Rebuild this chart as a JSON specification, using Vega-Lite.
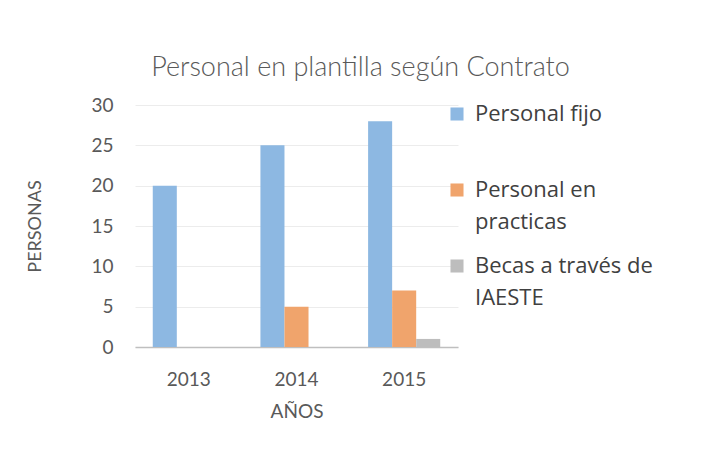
{
  "$schema": "https://vega.github.io/schema/vega-lite/v6.json",
  "width": 323,
  "height": 242,
  "autosize": "none",
  "padding": {"left": 135, "top": 105, "right": 255, "bottom": 115},
  "background": "white",
  "title": {
    "text": "Personal en plantilla según Contrato",
    "font": "Lato",
    "fontWeight": 300,
    "fontSize": 27,
    "color": "#595959",
    "anchor": "middle",
    "dx": 64,
    "offset": 14
  },
  "data": {
    "values": [
      {"year": "2013", "serie": "Personal fijo", "value": 20},
      {"year": "2013", "serie": "Personal en practicas", "value": 0},
      {"year": "2013", "serie": "Becas a través de IAESTE", "value": 0},
      {"year": "2014", "serie": "Personal fijo", "value": 25},
      {"year": "2014", "serie": "Personal en practicas", "value": 5},
      {"year": "2014", "serie": "Becas a través de IAESTE", "value": 0},
      {"year": "2015", "serie": "Personal fijo", "value": 28},
      {"year": "2015", "serie": "Personal en practicas", "value": 7},
      {"year": "2015", "serie": "Becas a través de IAESTE", "value": 1}
    ]
  },
  "mark": {"type": "bar"},
  "encoding": {
    "x": {
      "field": "year",
      "type": "nominal",
      "scale": {"paddingInner": 0.33, "paddingOuter": 0.165},
      "axis": {
        "title": "AÑOS",
        "labelAngle": 0,
        "labelFont": "Lato",
        "labelFontSize": 19,
        "labelColor": "#595959",
        "labelPadding": 23,
        "titleFont": "Lato",
        "titleFontSize": 19,
        "titleFontWeight": "normal",
        "titleColor": "#595959",
        "titlePadding": 13,
        "ticks": false,
        "domainColor": "#bfbfbf",
        "domainWidth": 1.5
      }
    },
    "xOffset": {
      "field": "serie",
      "type": "nominal",
      "sort": ["Personal fijo", "Personal en practicas", "Becas a través de IAESTE"],
      "scale": {"paddingInner": 0, "paddingOuter": 0}
    },
    "y": {
      "field": "value",
      "type": "quantitative",
      "scale": {"domain": [0, 30]},
      "axis": {
        "title": "PERSONAS",
        "values": [0, 5, 10, 15, 20, 25, 30],
        "labelFont": "Lato",
        "labelFontSize": 19,
        "labelColor": "#595959",
        "labelPadding": 22,
        "titleFont": "Lato",
        "titleFontSize": 18,
        "titleFontWeight": "normal",
        "titleColor": "#595959",
        "titlePadding": 46,
        "ticks": false,
        "domain": false,
        "gridColor": "#ececec",
        "gridWidth": 1
      }
    },
    "color": {
      "field": "serie",
      "type": "nominal",
      "sort": ["Personal fijo", "Personal en practicas", "Becas a través de IAESTE"],
      "scale": {
        "domain": ["Personal fijo", "Personal en practicas", "Becas a través de IAESTE"],
        "range": ["#8db8e2", "#f0a46c", "#bdbdbd"]
      },
      "legend": {
        "title": null,
        "orient": "none",
        "legendX": 311,
        "legendY": -2,
        "symbolType": "square",
        "symbolSize": 170,
        "symbolStrokeWidth": 0,
        "labelFont": "Open Sans",
        "labelFontSize": 22,
        "labelColor": "#404040",
        "labelLimit": 300,
        "labelOffset": 7,
        "rowPadding": 22,
        "labelExpr": "datum.label == 'Personal en practicas' ? ['Personal en', 'practicas'] : datum.label == 'Becas a través de IAESTE' ? ['Becas a través de', 'IAESTE'] : [datum.label, '']"
      }
    }
  },
  "config": {
    "view": {"stroke": null},
    "style": {"guide-label": {"lineHeight": 32}}
  }
}
